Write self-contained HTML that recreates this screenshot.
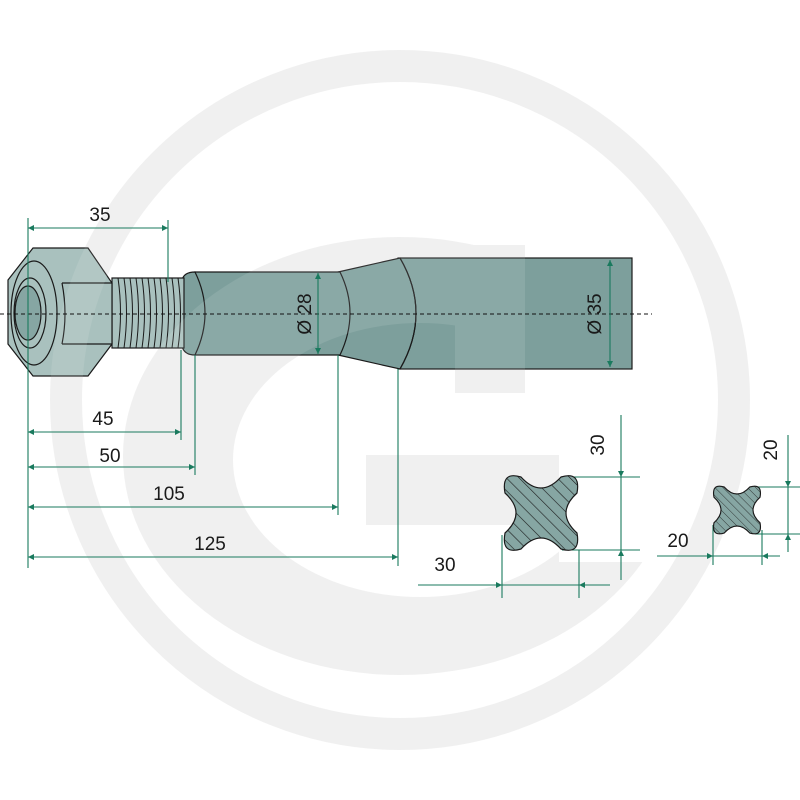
<!DOCTYPE html>
<html><head><meta charset="utf-8"><style>html,body{margin:0;padding:0;background:#fff}svg{display:block}</style></head>
<body>
<svg width="800" height="800" viewBox="0 0 800 800" xmlns="http://www.w3.org/2000/svg" font-family="'Liberation Sans', 'DejaVu Sans', sans-serif">
<defs>
  <pattern id="hatch" patternUnits="userSpaceOnUse" width="9" height="9" patternTransform="rotate(-45)">
    <rect width="9" height="9" fill="#86a6a3"/>
    <line x1="0" y1="0" x2="0" y2="9" stroke="#1a1a1a" stroke-width="1.2"/>
  </pattern>
  <path id="cross" d="M -20,-36 Q 0,-14 20,-36 Q 40,-42 36,-20 Q 14,0 36,20 Q 40,42 20,36 Q 0,14 -20,36 Q -40,42 -36,20 Q -14,0 -36,-20 Q -40,-42 -20,-36 Z"/>
  <marker id="ar" viewBox="0 0 10 10" refX="10" refY="5" markerWidth="9" markerHeight="6" orient="auto-start-reverse" markerUnits="userSpaceOnUse">
    <path d="M0,0 L10,5 L0,10 Z" fill="#1a7a5e"/>
  </marker>
  <mask id="wmask" maskUnits="userSpaceOnUse" x="0" y="0" width="800" height="800">
    <rect width="800" height="800" fill="#000"/>
    <ellipse cx="400" cy="456" rx="277" ry="219" fill="#fff"/>
    <ellipse cx="420" cy="460" rx="187" ry="137" fill="#000"/>
    <rect x="455" y="392" width="300" height="63" fill="#000"/>
    <rect x="559" y="392" width="200" height="170" fill="#000"/>
    <rect x="525" y="200" width="250" height="200" fill="#000"/>
    <rect x="455" y="245" width="70" height="148" fill="#fff"/>
    <rect x="366" y="455" width="193" height="70" fill="#fff"/>
    <circle cx="400" cy="400" r="334" fill="none" stroke="#fff" stroke-width="32"/>
  </mask>
</defs>
<rect width="800" height="800" fill="#efefef" mask="url(#wmask)"/>

<g stroke="#1a1a1a" stroke-width="1.2">
  <rect x="398" y="258" width="234" height="111" fill="#7d9f9c"/>
  <path d="M 338 272 L 400 258 Q 432 313 400 369 L 338 355 Z" fill="#7d9f9c"/>
  <path d="M 400 258 Q 432 313 400 369" fill="none"/>
  <path d="M 195 272 L 340 272 Q 360 313 340 355 L 195 355 Z" fill="#7d9f9c"/>
  <path d="M 195 272 Q 184 272 182 280 L 182 346 Q 184 355 195 355 Q 215 313 195 272 Z" fill="#7d9f9c"/>
  <rect x="112" y="278" width="72" height="70" fill="#a9c1be"/>
  <g fill="none" stroke-width="1">
    <path d="M118 278 q5 35 0 70 M124 278 q5 35 0 70 M130 278 q5 35 0 70 M136 278 q5 35 0 70 M142 278 q5 35 0 70 M148 278 q5 35 0 70 M154 278 q5 35 0 70 M160 278 q5 35 0 70 M166 278 q5 35 0 70 M172 278 q5 35 0 70 M178 278 q5 35 0 70"/>
  </g>
  <path d="M 8 280 L 33 248 L 88 248 L 112 283 L 112 344 L 88 376 L 33 376 L 8 344 Z" fill="#a9c1be"/>
  <path d="M 62 283 L 112 283 M 62 344 L 112 344" fill="none"/>
  <path d="M 62 283 Q 68 314 62 344" fill="none"/>
  <clipPath id="nutclip"><path d="M 8 280 L 33 248 L 88 248 L 112 283 L 112 344 L 88 376 L 33 376 L 8 344 Z"/></clipPath>
  <ellipse cx="34" cy="313" rx="23" ry="52" fill="none" clip-path="url(#nutclip)"/>
  <ellipse cx="30" cy="313" rx="16" ry="35" fill="#a9c1be"/>
  <ellipse cx="28" cy="313" rx="13" ry="27" fill="#86a6a3"/>
</g>
<rect width="800" height="800" fill="#fff" opacity="0.1" mask="url(#wmask)"/>

<line x1="0" y1="314" x2="652" y2="314" stroke="#111" stroke-width="1" stroke-dasharray="4,3"/>

<g stroke="#1a7a5e" stroke-width="1.1" fill="none">
  <line x1="28" y1="218" x2="28" y2="568"/>
  <line x1="168" y1="220" x2="168" y2="282"/>
  <line x1="28" y1="228" x2="168" y2="228" marker-start="url(#ar)" marker-end="url(#ar)"/>
  <line x1="181" y1="350" x2="181" y2="440"/>
  <line x1="28" y1="432" x2="181" y2="432" marker-start="url(#ar)" marker-end="url(#ar)"/>
  <line x1="195" y1="355" x2="195" y2="475"/>
  <line x1="28" y1="467" x2="195" y2="467" marker-start="url(#ar)" marker-end="url(#ar)"/>
  <line x1="338" y1="355" x2="338" y2="515"/>
  <line x1="28" y1="507" x2="338" y2="507" marker-start="url(#ar)" marker-end="url(#ar)"/>
  <line x1="398" y1="369" x2="398" y2="566"/>
  <line x1="28" y1="557" x2="398" y2="557" marker-start="url(#ar)" marker-end="url(#ar)"/>
  <line x1="318" y1="273" x2="318" y2="354" marker-start="url(#ar)" marker-end="url(#ar)"/>
  <line x1="610" y1="260" x2="610" y2="367" marker-start="url(#ar)" marker-end="url(#ar)"/>
  <line x1="562" y1="477" x2="640" y2="477"/>
  <line x1="562" y1="550" x2="640" y2="550"/>
  <line x1="621" y1="415" x2="621" y2="477" marker-end="url(#ar)"/>
  <line x1="621" y1="477" x2="621" y2="550"/>
  <line x1="621" y1="580" x2="621" y2="550" marker-end="url(#ar)"/>
  <line x1="502" y1="535" x2="502" y2="598"/>
  <line x1="579" y1="550" x2="579" y2="598"/>
  <line x1="418" y1="585" x2="502" y2="585" marker-end="url(#ar)"/>
  <line x1="502" y1="585" x2="579" y2="585"/>
  <line x1="610" y1="585" x2="579" y2="585" marker-end="url(#ar)"/>
  <line x1="755" y1="487" x2="800" y2="487"/>
  <line x1="755" y1="534" x2="800" y2="534"/>
  <line x1="788" y1="435" x2="788" y2="487" marker-end="url(#ar)"/>
  <line x1="788" y1="487" x2="788" y2="534"/>
  <line x1="788" y1="552" x2="788" y2="534" marker-end="url(#ar)"/>
  <line x1="713" y1="525" x2="713" y2="565"/>
  <line x1="762" y1="530" x2="762" y2="565"/>
  <line x1="657" y1="556" x2="713" y2="556" marker-end="url(#ar)"/>
  <line x1="713" y1="556" x2="762" y2="556"/>
  <line x1="780" y1="556" x2="762" y2="556" marker-end="url(#ar)"/>
</g>

<g stroke="#1a1a1a" stroke-width="1.2">
  <use href="#cross" transform="translate(541,513)" fill="url(#hatch)"/>
  <use href="#cross" transform="translate(737,510) scale(0.64)" fill="url(#hatch)" stroke-width="1.8"/>
</g>

<g fill="#1a1a1a" font-size="19">
  <text x="100" y="221" text-anchor="middle">35</text>
  <text x="103" y="425" text-anchor="middle">45</text>
  <text x="110" y="462" text-anchor="middle">50</text>
  <text x="169" y="500" text-anchor="middle">105</text>
  <text x="210" y="550" text-anchor="middle">125</text>
  <text x="445" y="571" text-anchor="middle">30</text>
  <text x="678" y="547" text-anchor="middle">20</text>
  <text transform="translate(604,445) rotate(-90)" text-anchor="middle">30</text>
  <text transform="translate(777,450) rotate(-90)" text-anchor="middle">20</text>
  <text transform="translate(311,314) rotate(-90)" text-anchor="middle">Ø 28</text>
  <text transform="translate(601,314) rotate(-90)" text-anchor="middle">Ø 35</text>
</g>
</svg>
</body></html>
